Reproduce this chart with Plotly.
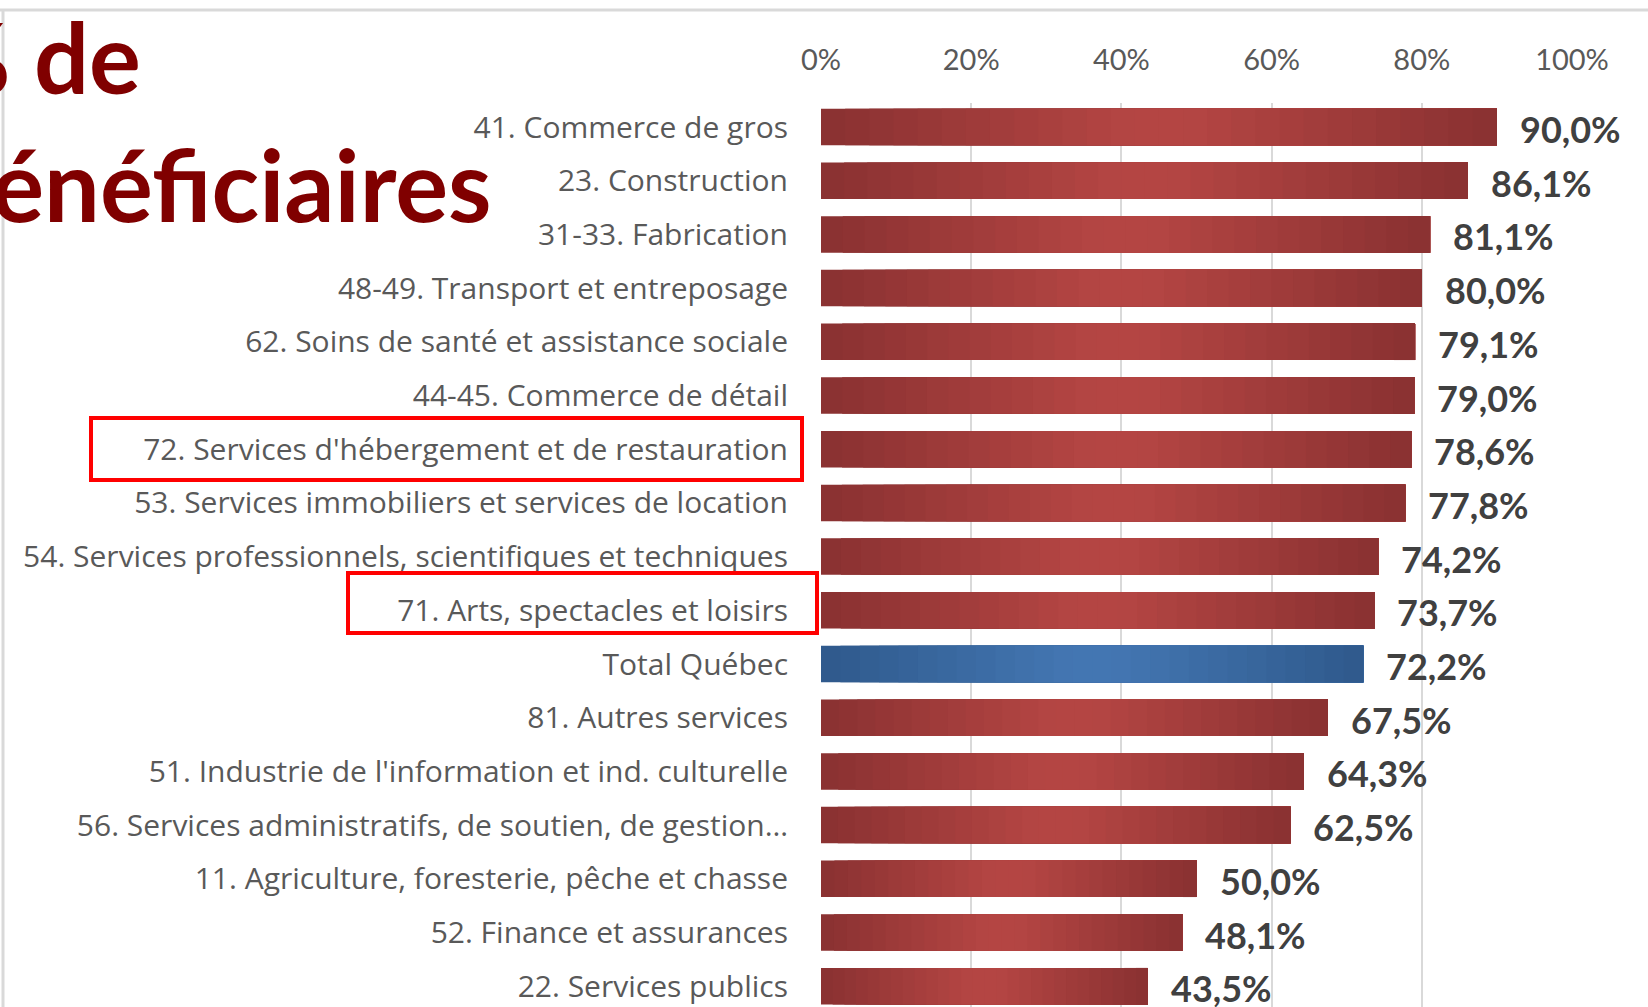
import plotly.graph_objects as go

categories = [
    "41. Commerce de gros",
    "23. Construction",
    "31-33. Fabrication",
    "48-49. Transport et entreposage",
    "62. Soins de santé et assistance sociale",
    "44-45. Commerce de détail",
    "72. Services d'hébergement et de restauration",
    "53. Services immobiliers et services de location",
    "54. Services professionnels, scientifiques et techniques",
    "71. Arts, spectacles et loisirs",
    "Total Québec",
    "81. Autres services",
    "51. Industrie de l'information et ind. culturelle",
    "56. Services administratifs, de soutien, de gestion…",
    "11. Agriculture, foresterie, pêche et chasse",
    "52. Finance et assurances",
    "22. Services publics",
]
values = [90.0, 86.1, 81.1, 80.0, 79.1, 79.0, 78.6, 77.8, 74.2, 73.7,
          72.2, 67.5, 64.3, 62.5, 50.0, 48.1, 43.5]
highlighted = ["72. Services d'hébergement et de restauration",
               "71. Arts, spectacles et loisirs"]
total_label = "Total Québec"
tick_vals = [0, 0.2, 0.4, 0.6, 0.8, 1.0]
title_line1 = "% de"
title_line2 = "bénéficiaires"

W, H = 1648, 1007
ML, MR, MT, MB = 821, 76, 103, 0
PW, PH = W - ML - MR, H - MT - MB
ROW = 53.7
first_center = 127


def px2x(px):
    return (px - ML) / PW


def px2y(py):
    return (H - MB - py) / PH


RED_EDGE = (137, 49, 49)
RED_MID = (180, 69, 67)
BLUE_EDGE = (47, 89, 139)
BLUE_MID = (67, 118, 178)


def mix(a, b, t):
    return "rgb(%d,%d,%d)" % tuple(round(a[k] + (b[k] - a[k]) * t) for k in range(3))


def grad(edge, mid, f):
    t = 1 - abs(f - 0.5) / 0.5
    t = min(1.0, t * 1.1)
    return mix(edge, mid, t)


fracs = [v / 100 for v in values]
N = 28
fig = go.Figure()
for i in range(N):
    f = (i + 0.5) / N
    colors = [grad(BLUE_EDGE, BLUE_MID, f) if c == total_label else grad(RED_EDGE, RED_MID, f)
              for c in categories]
    fig.add_trace(go.Bar(
        y=categories,
        x=[v * (N - i) / N for v in fracs],
        base=[v * i / N for v in fracs],
        orientation="h",
        width=0.68,
        marker=dict(color=colors, line=dict(width=0)),
        hoverinfo="skip",
        showlegend=False,
    ))

y_range = [-(first_center - MT) / ROW + PH / ROW, -(first_center - MT) / ROW]

annotations = []
for c, v in zip(categories, values):
    annotations.append(dict(
        x=v / 100, y=c, xref="x", yref="y",
        text=(f"{v:.1f}".replace(".", ",") + "%"),
        showarrow=False, xanchor="left", yanchor="middle", xshift=21, yshift=-2,
        font=dict(family="Lato", size=36, color="#404040", weight="bold"),
    ))

annotations.append(dict(
    x=px2x(143), y=px2y(57), xref="paper", yref="paper", text="<b>" + title_line1 + "</b>",
    showarrow=False, xanchor="right", yanchor="middle",
    font=dict(family="Lato", size=97, color="#800000")))
annotations.append(dict(
    x=px2x(494), y=px2y(184), xref="paper", yref="paper", text="<b>" + title_line2 + "</b>",
    showarrow=False, xanchor="right", yanchor="middle",
    font=dict(family="Lato", size=99, color="#800000")))

shapes = []
# slide border
shapes.append(dict(type="line", xref="paper", yref="paper",
                   x0=px2x(0), x1=px2x(W), y0=px2y(10), y1=px2y(10),
                   line=dict(color="#d9d9d9", width=3)))
shapes.append(dict(type="line", xref="paper", yref="paper",
                   x0=px2x(3), x1=px2x(3), y0=px2y(10), y1=px2y(H),
                   line=dict(color="#d9d9d9", width=3)))
# red highlight boxes
boxes = {highlighted[0]: (91, 802, 418, 480), highlighted[1]: (348, 817, 573, 633)}
for c, (x0, x1, y0, y1) in boxes.items():
    shapes.append(dict(type="rect", xref="paper", yref="paper",
                       x0=px2x(x0), x1=px2x(x1), y0=px2y(y0), y1=px2y(y1),
                       line=dict(color="#ff0000", width=4)))

fig.update_layout(
    width=W, height=H,
    margin=dict(l=ML, r=MR, t=MT, b=MB, pad=0),
    paper_bgcolor="white", plot_bgcolor="white",
    barmode="overlay",
    font=dict(family="Lato", color="#595959"),
    annotations=annotations,
    shapes=shapes,
    xaxis=dict(
        side="top", range=[0, 1], tickvals=tick_vals, tickformat=".0%",
        showgrid=True, gridcolor="#d9d9d9", gridwidth=2, zeroline=False,
        showline=False, ticks="", ticklabelstandoff=26,
        tickfont=dict(family="Lato", size=29, color="#595959"),
        fixedrange=True,
    ),
    yaxis=dict(
        type="category", categoryorder="array", categoryarray=categories,
        range=y_range, showgrid=False, zeroline=False, showline=False,
        ticks="", ticklabelstandoff=32,
        tickfont=dict(family="Open Sans", size=30, color="#595959"),
        fixedrange=True,
    ),
)

fig.write_html("out.html", config={"displayModeBar": False},
               post_script="document.body.style.margin='0';document.body.style.overflow='hidden';")
